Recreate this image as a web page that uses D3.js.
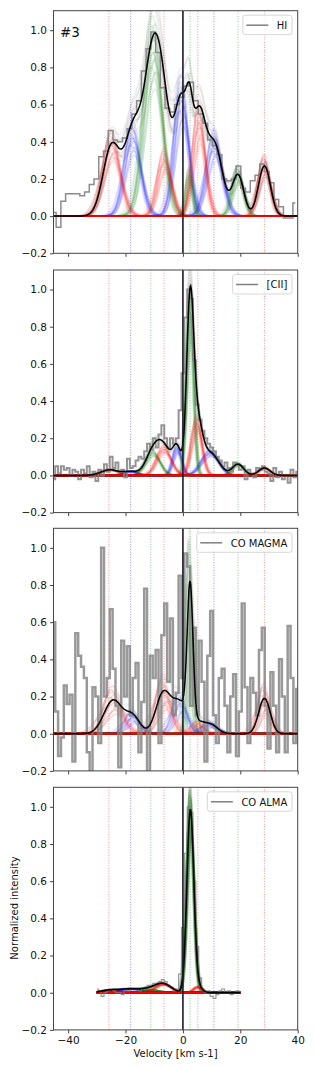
<!DOCTYPE html>
<html>
<head>
<meta charset="utf-8">
<script src="https://cdnjs.cloudflare.com/ajax/libs/d3/7.8.5/d3.min.js"></script>
<style>
body { margin: 0; background: #fff; }
svg text { font-family: "DejaVu Sans", sans-serif; fill: #111; }
</style>
</head>
<body>
<svg id="chart" width="314" height="1067"></svg>
<script>
// prior centres shown as dotted lines
var lineVel = [-25.8, -18.2, -11.2, -6.6, 2.5, 5.2, 10.8, 19.2, 28.4];
var lineCol = ["red", "blue", "green", "red", "green", "red", "blue", "green", "red"];
var compCol = ["red", "blue", "green", "red", "blue", "green", "red", "blue", "green", "red"];
var xTicks = [-40, -20, 0, 20, 40];
var yTicks = [-0.2, 0, 0.2, 0.4, 0.6, 0.8, 1.0];
var names = ["HI", "[CII]", "CO MAGMA", "CO ALMA"];

// spectra (channel start, width, values)
var hiStart = -45, hiStep = 1.65;
var hiVals = [0.02,-0.06,0.08,0.12,0.12,0.12,0.11,0.13,0.17,0.20,0.32,0.35,0.46,0.41,0.40,0.42,0.47,0.55,0.62,0.78,
  0.90,0.99,0.88,0.69,0.58,0.56,0.60,0.64,0.70,0.72,0.62,0.55,0.50,0.41,0.38,0.33,0.20,0.19,0.20,0.27,
  0.15,0.13,0.19,0.22,0.28,0.24,0.18,0.09,0.05,-0.01,-0.01,0.07];

var ciiStart = -45, ciiStep = 1;
var ciiVals = [-0.02,0.05,0.01,0.05,0.03,0.04,0.00,0.03,0.02,-0.02,
  0.03,0.01,0.05,-0.01,0.02,-0.03,0.03,0.00,0.06,0.02,
  0.10,0.04,0.07,0.02,0.03,-0.01,0.09,0.04,0.05,0.08,
  0.10,0.09,0.13,0.17,0.14,0.20,0.15,0.22,0.27,0.20,
  0.15,0.20,0.17,0.20,0.35,0.55,0.85,1.00,0.95,0.62,
  0.38,0.30,0.24,0.20,0.17,0.15,0.13,0.10,0.08,0.05,
  0.07,0.04,0.02,0.07,0.06,0.03,0.05,-0.02,0.03,0.01,
  -0.01,0.04,0.03,0.05,0.02,0.01,-0.03,0.04,-0.01,0.02,
  -0.02,0.00,-0.04,0.03,-0.01,0.02];

var magmaStart = -45, magmaStep = 1;
var magmaVals = [0.60,0.12,-0.12,-0.02,0.26,0.16,0.21,-0.15,0.54,0.42,
  0.36,0.30,-0.10,-0.25,0.25,0.20,-0.05,1.00,0.20,0.30,
  0.67,0.35,0.15,-0.18,0.50,0.20,0.47,0.10,0.30,0.38,
  -0.10,0.17,0.78,-0.25,0.42,0.30,0.45,-0.05,0.53,0.70,
  0.28,0.62,0.10,0.22,0.85,0.30,0.97,0.90,0.15,0.57,
  0.10,0.50,0.28,-0.15,0.42,0.66,0.10,-0.05,0.30,0.35,
  0.15,-0.10,0.20,0.32,-0.12,0.12,0.70,0.25,-0.05,0.30,
  0.22,0.10,0.45,0.57,0.15,-0.08,0.33,0.15,-0.10,0.40,
  0.20,-0.10,0.58,0.30,-0.05,0.24];

var almaStart = -30, almaStep = 1;
var almaVals = [0.02,0.01,-0.02,0.00,0.01,0.02,0.01,0.00,0.00,-0.01,
  0.02,0.01,0.02,0.02,0.02,0.01,0.02,0.03,0.04,0.04,
  0.05,0.05,0.06,0.07,0.06,0.04,0.03,0.01,0.02,0.10,
  0.35,0.75,1.00,0.97,0.60,0.25,0.08,0.02,0.00,0.01,
  -0.02,-0.03,-0.01,0.01,0.02,0.00,0.01,-0.01,0.00,0.01,
  0.00];

// gaussian components: centre, amplitude, sigma
var hiCen = [-24.8,-17.5,-10.4,-6.4,-0.5,2.3,5.6,11.0,19.2,28.4];
var hiAmp = [0.38,0.42,0.88,0.30,0.62,0.22,0.50,0.38,0.22,0.27];
var hiSig = [3.0,2.8,3.2,2.4,2.5,1.1,2.2,2.8,2.0,2.1];

var ciiCen = [-25.5,-18.2,-10.5,-6.6,-2.0,2.5,4.8,9.5,19.2,28.4];
var ciiAmp = [0.03,0.02,0.12,0.14,0.14,0.88,0.28,0.12,0.06,0.04];
var ciiSig = [3.0,2.5,2.5,2.5,1.5,1.2,1.8,3.0,2.0,2.0];

var magmaCen = [-24.3,-17.5,-11.2,-6.8,-1.0,2.5,5.2,9.5,19.2,28.4];
var magmaAmp = [0.18,0.09,0.0,0.22,0.16,0.74,0.05,0.05,0.0,0.19];
var magmaSig = [3.2,2.5,2.0,2.6,2.5,1.0,2.0,2.5,2.0,2.0];

var almaCen = [-25.8,-18.2,-11.2,-6.8,-0.5,2.6,5.2,10.8,19.2,28.4];
var almaAmp = [0.012,0.02,0.015,0.045,0.0,0.98,0.03,0.0,0.0,0.0];
var almaSig = [3.0,4.0,3.0,2.8,2.0,1.2,1.5,2.0,2.0,2.0];

// posterior sample spread (multipliers / shifts)
var varA = [1.00,0.78,1.22,0.88,1.12,0.70,1.30,0.94,1.06,0.84,1.16,1.00];
var varW = [1.00,1.12,0.90,1.20,0.85,1.05,0.95,1.15,0.88,0.98,1.08,0.92];
var varC = [0.0,0.6,-0.5,-0.9,0.3,0.8,-0.2,0.4,-0.7,0.9,-0.4,0.1];

var panels = [
  {start:hiStart, step:hiStep, vals:hiVals, cen:hiCen, amp:hiAmp, sig:hiSig, range:[-45.1,40], spread:0.75, lw:1.5, op:0.9, tot:"#444", totOp:0.08, cOp:0.1},
  {start:ciiStart, step:ciiStep, vals:ciiVals, cen:ciiCen, amp:ciiAmp, sig:ciiSig, range:[-45.1,40], spread:0.55, lw:2, op:0.85, tot:"#444", totOp:0.06, cOp:0.1},
  {start:magmaStart, step:magmaStep, vals:magmaVals, cen:magmaCen, amp:magmaAmp, sig:magmaSig, range:[-45.1,40], spread:1.4, lw:2.5, op:0.8, tot:"#444", totOp:0.05, cOp:0.09},
  {start:almaStart, step:almaStep, vals:almaVals, cen:almaCen, amp:almaAmp, sig:almaSig, range:[-30,20], spread:0.5, lw:1.2, op:0.8, tot:"#000", totOp:0.1, cOp:0.14}
];

var left = 53.5, right = 297.7;
var panelTop = [10.7, 270, 528.3, 787.3], panelH = 242.6;

var svg = d3.select("#chart");
var x = d3.scaleLinear().domain([-45.1, 40]).range([left, right]);

function gauss(v, a, c, s) { return a * Math.exp(-0.5 * Math.pow((v - c) / s, 2)); }

panels.forEach(function(p, pi) {
  var top = panelTop[pi];
  var y = d3.scaleLinear().domain([-0.2, 1.105]).range([top + panelH, top]);
  var clipId = "clip" + pi;
  svg.append("clipPath").attr("id", clipId)
    .append("rect").attr("x", left).attr("y", top).attr("width", right - left).attr("height", panelH);
  var g = svg.append("g").attr("clip-path", "url(#" + clipId + ")");
  var gTot = g.append("g");
  var gComp = g.append("g");

  var grid = d3.range(p.range[0], p.range[1] + 0.001, 0.2);
  var line = d3.line().x(function(d) { return x(d[0]); }).y(function(d) { return y(d[1]); });

  // component samples (red last so the baseline reads red)
  var order = [1, 4, 7, 2, 5, 8, 0, 3, 6, 9];
  var totals = varA.map(function() { return grid.map(function() { return 0; }); });
  order.forEach(function(j) {
    varA.forEach(function(va, k) {
      var a = p.amp[j] * (1 + (va - 1) * p.spread);
      var s = p.sig[j] * (1 + (varW[k] - 1) * p.spread);
      var c = p.cen[j] + varC[k] * p.spread;
      var pts = grid.map(function(v, i) {
        var val = gauss(v, a, c, s);
        totals[k][i] += val;
        return [v, val];
      });
      gComp.append("path").attr("d", line(pts)).attr("fill", "none")
        .attr("stroke", compCol[j]).attr("stroke-width", 1.8).attr("stroke-opacity", p.cOp);
    });
  });

  // total samples (behind components)
  totals.forEach(function(t) {
    gTot.append("path").attr("d", line(grid.map(function(v, i) { return [v, t[i]]; })))
      .attr("fill", "none").attr("stroke", p.tot).attr("stroke-width", 1.8).attr("stroke-opacity", p.totOp);
  });

  // dotted prior lines
  lineVel.forEach(function(v, i) {
    g.append("line").attr("x1", x(v)).attr("x2", x(v)).attr("y1", top).attr("y2", top + panelH)
      .attr("stroke", lineCol[i]).attr("stroke-opacity", 0.45).attr("stroke-width", 1)
      .attr("stroke-dasharray", "1,1.6");
  });

  // data
  var data = p.vals.map(function(v, i) { return [p.start + i * p.step, v]; });
  g.append("path").attr("d", line.curve(d3.curveStep)(data)).attr("fill", "none")
    .attr("stroke", "#808080").attr("stroke-width", p.lw).attr("stroke-opacity", p.op);
  line.curve(d3.curveLinear);

  // best fit
  var fit = grid.map(function(v) {
    var s = 0;
    for (var j = 0; j < p.cen.length; j++) s += gauss(v, p.amp[j], p.cen[j], p.sig[j]);
    return [v, s];
  });
  g.append("path").attr("d", line(fit)).attr("fill", "none").attr("stroke", "#000").attr("stroke-width", 1.5);

  // zero velocity
  g.append("line").attr("x1", x(0)).attr("x2", x(0)).attr("y1", top).attr("y2", top + panelH)
    .attr("stroke", "#1a1a2a").attr("stroke-width", 1.6);

  // frame and axes
  svg.append("rect").attr("x", left).attr("y", top).attr("width", right - left).attr("height", panelH)
    .attr("fill", "none").attr("stroke", "#444").attr("stroke-width", 1);

  var ya = svg.append("g").attr("transform", "translate(" + left + ",0)")
    .call(d3.axisLeft(y).tickValues(yTicks).tickFormat(d3.format(".1f")).tickSize(3.5).tickPadding(3));
  ya.select(".domain").remove();
  ya.selectAll("text").style("font-size", "10.5px").attr("fill", "#111");
  ya.selectAll("line").attr("stroke", "#444");

  var xa = svg.append("g").attr("transform", "translate(0," + (top + panelH) + ")")
    .call(d3.axisBottom(x).tickValues(xTicks).tickFormat(pi === 3 ? d3.format("d") : "").tickSize(3.5).tickPadding(3));
  xa.select(".domain").remove();
  xa.selectAll("text").style("font-size", "10.5px").attr("fill", "#111");
  xa.selectAll("line").attr("stroke", "#444");

  // legend
  var lg = svg.append("g");
  var txt = lg.append("text").attr("y", top + 18.3).style("font-size", "10px").text(names[pi]);
  var tw = txt.node().getComputedTextLength();
  var bw = 3.5 + 22 + 8.5 + tw + 4.7;
  var bx = 292 - bw;
  lg.insert("rect", "text").attr("x", bx).attr("y", top + 4.5).attr("width", bw).attr("height", 19.5)
    .attr("rx", 2.5).attr("fill", "#fff").attr("fill-opacity", 0.8).attr("stroke", "#ccc").attr("stroke-width", 0.8);
  lg.insert("line", "text").attr("x1", bx + 3.5).attr("x2", bx + 25.5).attr("y1", top + 14.5).attr("y2", top + 14.5)
    .attr("stroke", "#808080").attr("stroke-width", 1.5);
  txt.attr("x", bx + 34);
});

svg.append("text").attr("x", 60).attr("y", 36.7).style("font-size", "13.5px").text("#3");

svg.append("text").attr("transform", "translate(17.5,908) rotate(-90)").attr("text-anchor", "middle")
  .style("font-size", "10px").text("Normalized intensity");
svg.append("text").attr("x", 175.5).attr("y", 1056.5).attr("text-anchor", "middle")
  .style("font-size", "10px").text("Velocity [km s-1]");
</script>
</body>
</html>
